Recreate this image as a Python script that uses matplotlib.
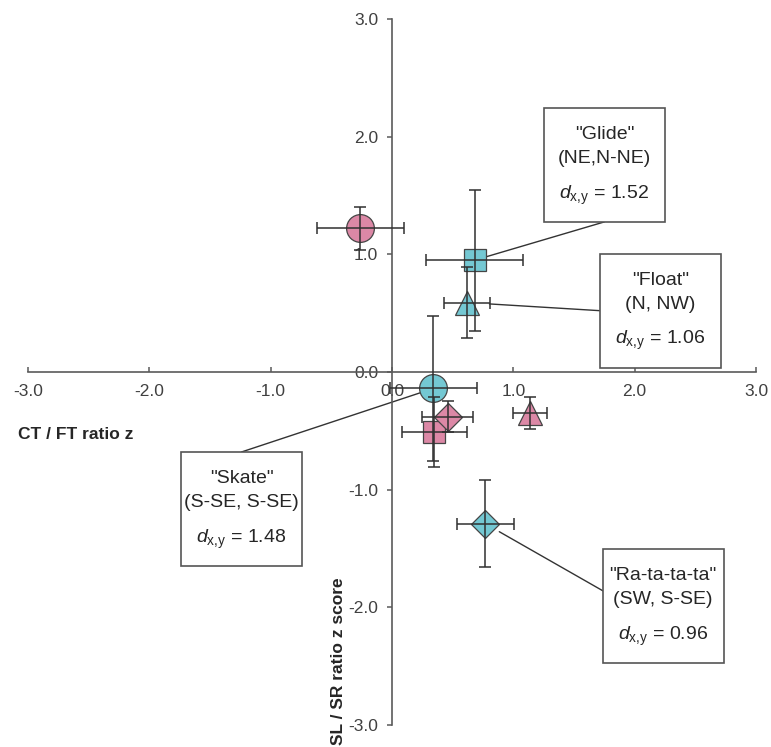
import matplotlib
matplotlib.use("Agg")
import matplotlib.pyplot as plt
import matplotlib.transforms as mtransforms
from matplotlib.patches import Rectangle

# marker shapes shared by both groups: circle, square, triangle, diamond
shapes = ["o", "s", "^", "D"]
marker_sizes = [20, 16, 17, 14.5]

# pink group
pink_x = [-0.26, 0.35, 1.14, 0.46]
pink_y = [1.22, -0.51, -0.35, -0.38]
pink_xerr = [0.36, 0.27, 0.14, 0.21]
pink_yerr = [0.18, 0.30, 0.135, 0.13]

# cyan group
cyan_x = [0.34, 0.68, 0.62, 0.77]
cyan_y = [-0.14, 0.95, 0.59, -1.29]
cyan_xerr = [0.36, 0.40, 0.19, 0.235]
cyan_yerr = [0.62, 0.60, 0.30, 0.37]

# annotations (point to cyan markers)
gait_names = ['"Glide"', '"Float"', '"Skate"', '"Ra-ta-ta-ta"']
gait_dirs = ["(NE,N-NE)", "(N, NW)", "(S-SE, S-SE)", "(SW, S-SE)"]
gait_d = [1.52, 1.06, 1.48, 0.96]
gait_marker = [1, 2, 0, 3]

ticks = [-3.0, -2.0, -1.0, 0.0, 1.0, 2.0, 3.0]

# layout of the label boxes (data coords of box centre, attach point in inches, shrink in pt)
box_centres = [(1.75, 1.76), (2.21, 0.52), (-1.24, -1.164), (2.234, -1.988)]
box_attach = [(0.0, -0.57), (-0.58, 0.0), (0.0, 0.57), (-0.60, 0.15)]
box_shrink = [9, 16, 10, 11.5]
box_w, box_h = 1.21, 1.14

plt.rcParams["font.family"] = ["Liberation Sans", "DejaVu Sans"]
plt.rcParams["mathtext.fontset"] = "custom"
plt.rcParams["mathtext.rm"] = "Liberation Sans"
plt.rcParams["mathtext.it"] = "Liberation Sans:italic"

pink = "#dc88a6"
cyan = "#74c8d3"
edge = "#454545"
axis_col = "#5a5a5a"

fig = plt.figure(figsize=(7.71, 7.47), dpi=100)
ax = fig.add_axes([28 / 771, 22 / 747, 728 / 771, 706 / 747])
ax.set_xlim(-3, 3)
ax.set_ylim(-3, 3)

for xs, ys, xe, ye, col in [(pink_x, pink_y, pink_xerr, pink_yerr, pink),
                            (cyan_x, cyan_y, cyan_xerr, cyan_yerr, cyan)]:
    for i in range(len(shapes)):
        ax.plot(xs[i], ys[i], marker=shapes[i], markersize=marker_sizes[i],
                markerfacecolor=col, markeredgecolor=edge, markeredgewidth=0.9,
                linestyle="none", zorder=3)
    ax.errorbar(xs, ys, xerr=xe, yerr=ye, fmt="none", ecolor="#303030",
                elinewidth=1.1, capsize=4, capthick=1.1, zorder=4)

# spines through the origin
for s in ["top", "right"]:
    ax.spines[s].set_visible(False)
ax.spines["left"].set_position(("data", 0))
ax.spines["bottom"].set_position(("data", 0))
for s in ["left", "bottom"]:
    ax.spines[s].set_color(axis_col)
    ax.spines[s].set_linewidth(1.2)

ax.set_xticks(ticks)
ax.set_yticks(ticks)
ax.set_xticklabels([f"{t:.1f}" for t in ticks])
ax.set_yticklabels([f"{t:.1f}" for t in ticks])
ax.tick_params(axis="x", direction="in", length=3.5, width=1.1, color=axis_col,
               labelsize=12.5, labelcolor="#404040", pad=8.5)
ax.tick_params(axis="y", direction="out", length=3.5, width=1.1, color=axis_col,
               labelsize=12.5, labelcolor="#404040", pad=6.5)

ax.text(-3.08, -0.535, "CT / FT ratio z", fontsize=12.5, fontweight="bold",
        color="#262626", ha="left", va="center")
ax.text(-0.445, -2.455, "SL / SR ratio z score", fontsize=12.5, fontweight="bold",
        color="#262626", ha="center", va="center", rotation=90)

for k in range(len(gait_names)):
    cx, cy = box_centres[k]
    bt = fig.dpi_scale_trans + mtransforms.ScaledTranslation(cx, cy, ax.transData)
    ax.add_patch(Rectangle((-box_w / 2, -box_h / 2), box_w, box_h, transform=bt,
                           facecolor="white", edgecolor="#555555", linewidth=1.2,
                           zorder=5))
    ax.text(0, 0.30, gait_names[k], transform=bt, ha="center", va="center",
            fontsize=14, color="#262626", zorder=6)
    ax.text(0, 0.06, gait_dirs[k], transform=bt, ha="center", va="center",
            fontsize=14, color="#262626", zorder=6)
    ax.text(0, -0.30, r"$\mathit{d}_{\mathrm{x{,}y}}$" + f" = {gait_d[k]:.2f}",
            transform=bt, ha="center", va="center", fontsize=14, color="#262626",
            zorder=6)
    m = gait_marker[k]
    ax.annotate("", xy=(cyan_x[m], cyan_y[m]), xycoords="data",
                xytext=box_attach[k], textcoords=bt,
                arrowprops=dict(arrowstyle="-", color="#333333", lw=1.0,
                                shrinkA=0, shrinkB=box_shrink[k]),
                zorder=2)

fig.savefig("out.png", dpi=100)
